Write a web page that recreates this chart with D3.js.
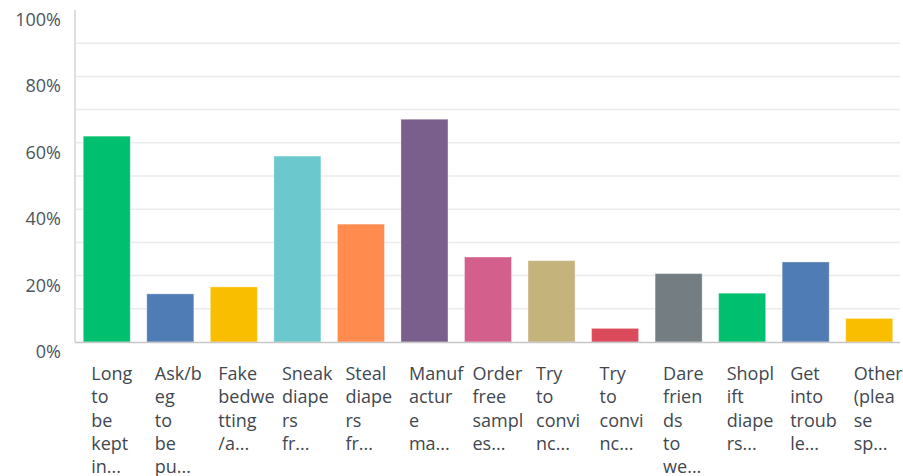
<!DOCTYPE html>
<html>
<head>
<meta charset="utf-8">
<script src="https://cdn.jsdelivr.net/npm/d3@7"></script>
<style>
  body { margin: 0; background: #fff; }
  svg { display: block; font-family: "Open Sans", sans-serif; }
  .grid line { stroke: #ebebeb; stroke-width: 1.5px; }
  .ytick { fill: #4d555d; font-size: 18px; }
  .xlab { fill: #3f4850; font-size: 18px; }
</style>
</head>
<body>
<div id="chart"></div>
<script>
// Data
const categories = [
  "Long to be kept in...", "Ask/beg to be pu...", "Fake bedwetting/a...",
  "Sneak diapers fr...", "Steal diapers fr...", "Manufacture ma...",
  "Order free samples...", "Try to convinc...", "Try to convinc...",
  "Dare friends to we...", "Shoplift diapers...", "Get into trouble...",
  "Other (please sp..."
];
// wrapped label lines as shown under each bar
const labelLines = [
  ["Long", "to", "be", "kept", "in..."],
  ["Ask/b", "eg", "to", "be", "pu..."],
  ["Fake", "bedwe", "tting", "/a..."],
  ["Sneak", "diape", "rs", "fr..."],
  ["Steal", "diape", "rs", "fr..."],
  ["Manuf", "actur", "e", "ma..."],
  ["Order", "free", "sampl", "es..."],
  ["Try", "to", "convi", "nc..."],
  ["Try", "to", "convi", "nc..."],
  ["Dare", "frien", "ds", "to", "we..."],
  ["Shopl", "ift", "diape", "rs..."],
  ["Get", "into", "troub", "le..."],
  ["Other", "(plea", "se", "sp..."]
];
const values = [0.62, 0.145, 0.166, 0.56, 0.355, 0.671, 0.256, 0.245, 0.041, 0.206, 0.147, 0.241, 0.071];
const colors = ["#00bf6f", "#507cb6", "#f9be00", "#6bc8cd", "#ff8b4f", "#7a5e8b", "#d25f8c",
                "#c4b47c", "#db4a5a", "#747d82", "#00bf6f", "#507cb6", "#f9be00"];
const yTicks = [0, 0.2, 0.4, 0.6, 0.8, 1];
const gridTicks = [0.1, 0.2, 0.3, 0.4, 0.5, 0.6, 0.7, 0.8, 0.9];

const width = 903, height = 476;
const margin = {top: 10, right: 2, left: 75, bottom: 134};

const svg = d3.select("#chart").append("svg")
  .attr("width", width).attr("height", height);

const x = d3.scaleBand()
  .domain(d3.range(categories.length))
  .range([margin.left, width - margin.right])
  .paddingInner(0.26)
  .paddingOuter(0.13);

const y = d3.scaleLinear()
  .domain([0, 1])
  .range([height - margin.bottom, margin.top]);

// Gridlines
svg.append("g").attr("class", "grid")
  .selectAll("line")
  .data(gridTicks)
  .join("line")
    .attr("x1", margin.left)
    .attr("x2", width - 3)
    .attr("y1", d => y(d))
    .attr("y2", d => y(d));

// Y tick labels (sit a little below their gridline)
svg.append("g")
  .selectAll("text")
  .data(yTicks)
  .join("text")
    .attr("class", "ytick")
    .attr("x", 61)
    .attr("y", d => y(d) + 16)
    .attr("text-anchor", "end")
    .text(d => d3.format(".0%")(d));

// Bars
svg.append("g")
  .selectAll("rect")
  .data(values)
  .join("rect")
    .attr("x", (d, i) => x(i))
    .attr("y", d => y(d))
    .attr("width", x.bandwidth())
    .attr("height", d => y(0) - y(d))
    .attr("fill", (d, i) => colors[i])
    .attr("stroke", "#fff")
    .attr("stroke-opacity", 0.35)
    .attr("stroke-width", 1);

// Axis lines
svg.append("line")
  .attr("x1", margin.left).attr("x2", margin.left)
  .attr("y1", y(1)).attr("y2", y(0))
  .attr("stroke", "#d3d3d3").attr("stroke-width", 1.5);
svg.append("line")
  .attr("x1", margin.left).attr("x2", width - 3)
  .attr("y1", y(0) + 0.5).attr("y2", y(0) + 0.5)
  .attr("stroke", "#c6c6c6").attr("stroke-width", 1.5);

// X labels
const lab = svg.append("g")
  .selectAll("text")
  .data(labelLines)
  .join("text")
    .attr("class", "xlab")
    .attr("x", (d, i) => x(i) + 8)
    .attr("y", y(0) + 38);
lab.selectAll("tspan")
  .data(d => d)
  .join("tspan")
    .attr("x", function() { return this.parentNode.getAttribute("x"); })
    .attr("dy", (d, j) => j === 0 ? 0 : 23.3)
    .text(d => d);
</script>
</body>
</html>
